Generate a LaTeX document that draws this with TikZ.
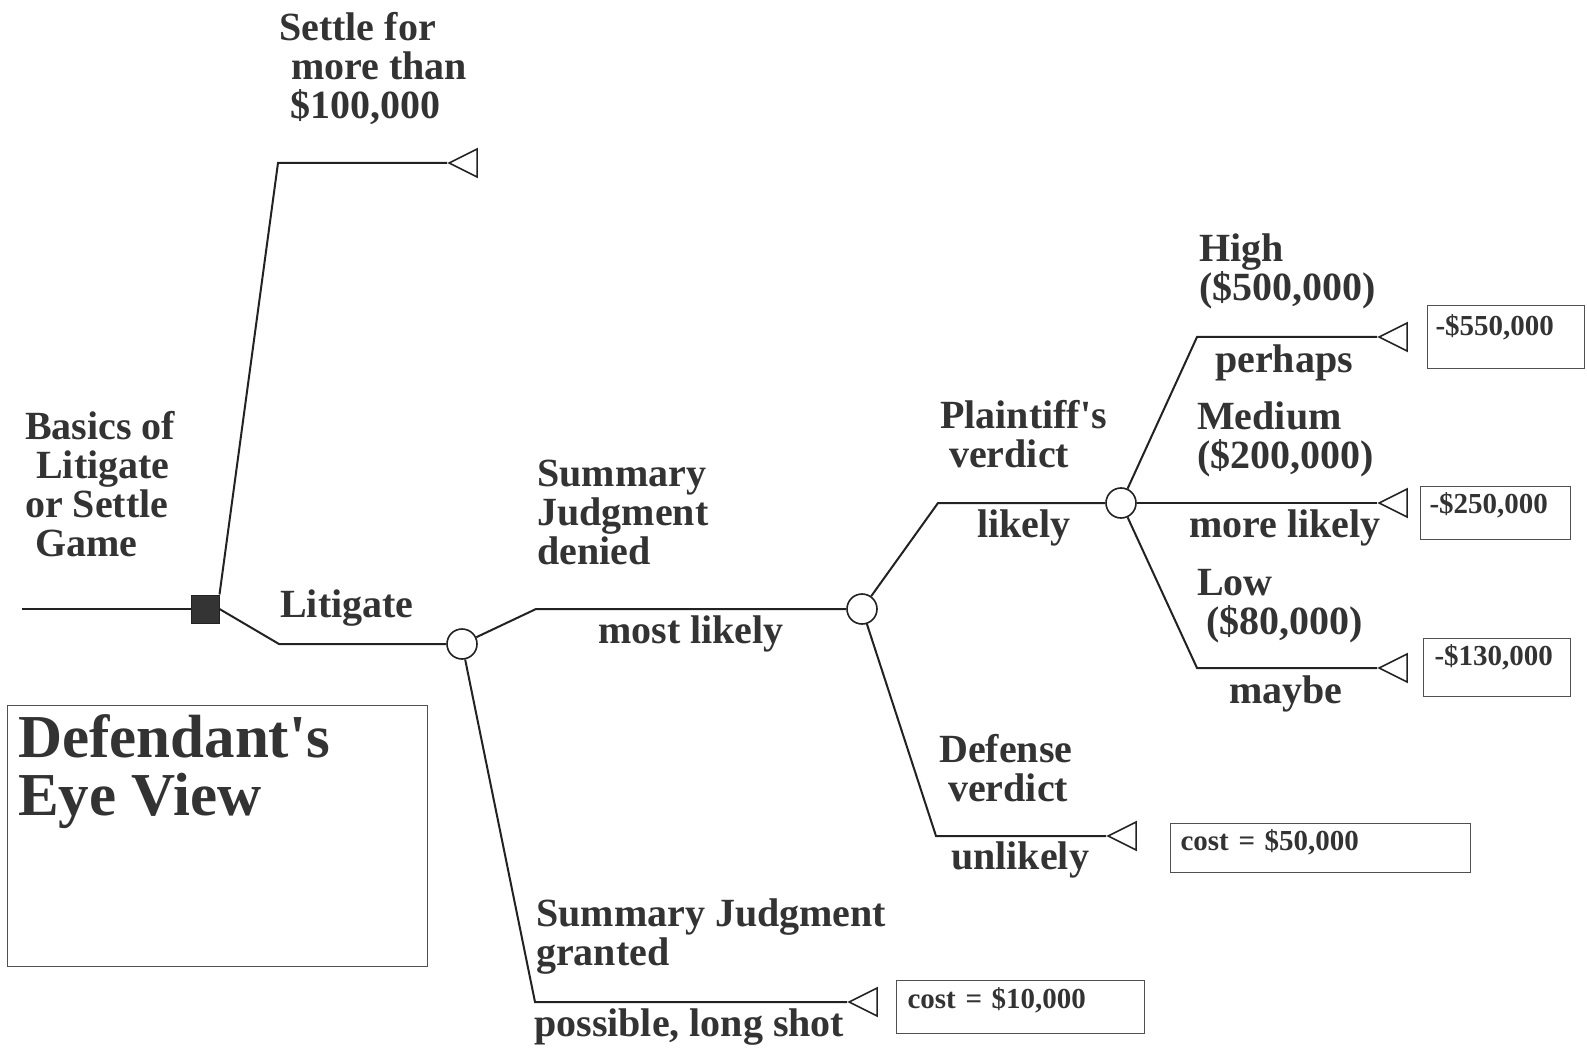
\documentclass[tikz,border=0pt]{standalone}
\usepackage{fontspec}
\newfontfamily\treefont{Liberation Serif}
\usetikzlibrary{shapes.geometric}
\definecolor{ink}{HTML}{222222}
\definecolor{txt}{HTML}{333333}
\definecolor{boxline}{HTML}{505050}
\newcommand\lblfnt{\treefont\bfseries\fontsize{40}{39}\selectfont}
\newcommand\valfnt{\treefont\bfseries\fontsize{29}{30}\selectfont}
\newcommand\ttlfnt{\treefont\bfseries\fontsize{61}{58}\selectfont}
\begin{document}
\begin{tikzpicture}[x=1pt,y=-1pt,
  branch/.style={draw=ink, line width=2pt, line join=miter},
  decision/.style={rectangle, draw=ink, fill=ink!92, minimum size=28pt, inner sep=0pt, line width=1pt},
  chance/.style={circle, draw=ink, fill=white, minimum size=30pt, inner sep=0pt, line width=1.6pt},
  payoff/.style={isosceles triangle, isosceles triangle stretches, shape border rotate=180,
    draw=ink, fill=white, minimum width=28pt, minimum height=28pt, inner sep=0pt, line width=1.6pt, anchor=apex},
  lab/.style={font=\lblfnt, text=txt, inner sep=0pt, align=left},
  valbox/.style={draw=boxline, line width=1.1pt, anchor=north west, inner ysep=0pt,
    align=left, font=\valfnt, text=txt},
]
\useasboundingbox (0,0) rectangle (1587,1048);
\fill[white] (0,0) rectangle (1587,1048);

% decision and chance nodes
\coordinate (start) at (22,609);
\node[decision] (sq) at (205,609) {};
\node[chance] (c1) at (462,644) {};
\node[chance] (c2) at (862,609) {};
\node[chance] (c3) at (1121,503) {};

% terminal nodes
\node[payoff] (tS) at (447,163) {};
\node[payoff] (tB) at (847,1002) {};
\node[payoff] (tD) at (1106,836) {};
\node[payoff] (tH) at (1377,337) {};
\node[payoff] (tM) at (1377,503) {};
\node[payoff] (tL) at (1377,668) {};

% branches
\draw[branch] (start) -- (sq.west);
\draw[branch] (sq.north east) -- (278,163) -- (tS.apex);
\draw[branch] (sq.east) -- (279,644) -- (c1);
\draw[branch] (c1) -- (536,609) -- (c2);
\draw[branch] (c1) -- (535,1002) -- (tB.apex);
\draw[branch] (c2) -- (938,503) -- (c3);
\draw[branch] (c2) -- (936,836) -- (tD.apex);
\draw[branch] (c3) -- (1197,337) -- (tH.apex);
\draw[branch] (c3) -- (tM.apex);
\draw[branch] (c3) -- (1197,668) -- (tL.apex);

% branch labels
\node[lab, anchor=north west] (lSettle) at (279,12) {Settle for\\\hspace*{12pt}more than\\\hspace*{11pt}\$100,000};
\node[lab, anchor=north west] (lBasics) at (25,411) {Basics of\\\hspace*{11pt}Litigate\\or Settle\\\hspace*{10pt}Game};
\node[lab, anchor=base west] (lLit) at (280,617) {Litigate};
\node[lab, anchor=north west] (lSJD) at (537,460) {Summary\\Judgment\\denied};
\node[lab, anchor=base west] (lMost) at (598,643) {most likely};
\node[lab, anchor=north west] (lPV) at (940,400) {Plaintiff's\\\hspace*{9pt}verdict};
\node[lab, anchor=base west] (lLikely) at (977,537) {likely};
\node[lab, anchor=north west] (lHigh) at (1199,234) {High\\(\$500,000)};
\node[lab, anchor=base west] (lPerh) at (1215,373) {perhaps};
\node[lab, anchor=north west] (lMed) at (1197,402) {Medium\\(\$200,000)};
\node[lab, anchor=base west] (lMore) at (1189,537) {more likely};
\node[lab, anchor=north west] (lLow) at (1197,569) {Low\\\hspace*{9pt}(\$80,000)};
\node[lab, anchor=base west] (lMaybe) at (1229,703) {maybe};
\node[lab, anchor=north west] (lDV) at (939,734) {Defense\\\hspace*{9pt}verdict};
\node[lab, anchor=base west] (lUnl) at (951,869) {unlikely};
\node[lab, anchor=north west] (lSJG) at (536,899) {Summary Judgment\\granted};
\node[lab, anchor=base west] (lPoss) at (534,1036) {possible, long shot};

% payoff boxes
\node[valbox, inner xsep=8pt, text width=141pt, text height=30pt, text depth=33pt] (vH) at (1427,305) {-\$550,000};
\node[valbox, inner xsep=9pt, text width=132pt, text height=27pt, text depth=26pt] (vM) at (1420,486) {-\$250,000};
\node[valbox, inner xsep=11pt, text width=125pt, text height=27pt, text depth=31pt] (vL) at (1423,638) {-\$130,000};
\node[valbox, inner xsep=10pt, text width=280pt, text height=27pt, text depth=22pt] (vD) at (1170,823) {cost = \$50,000};
\node[valbox, inner xsep=11pt, text width=226pt, text height=28pt, text depth=25pt] (vB) at (896,980) {cost = \$10,000};

% title panel
\node[draw=boxline, line width=1.1pt, anchor=north west, minimum width=420pt, minimum height=261pt, inner sep=0pt] (tbox) at (7,705) {};
\node[font=\ttlfnt, text=txt, inner sep=0pt, align=left, anchor=north west] (title) at (18,714) {Defendant's\\Eye View};
\end{tikzpicture}
\end{document}
